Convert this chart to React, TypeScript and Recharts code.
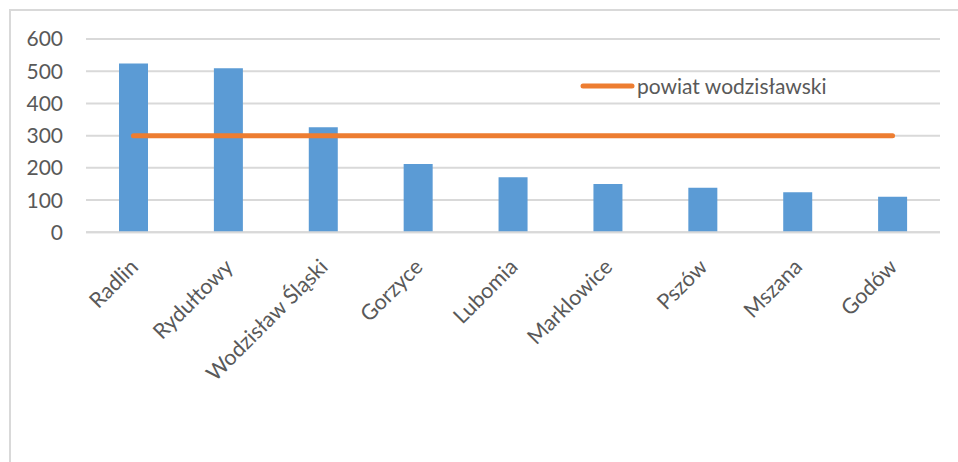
import React from 'react';
import { ComposedChart, Bar, Line, XAxis, YAxis, CartesianGrid, Legend } from 'recharts';

const gminy: string[] = ['Radlin', 'Rydułtowy', 'Wodzisław Śląski', 'Gorzyce', 'Lubomia', 'Marklowice', 'Pszów', 'Mszana', 'Godów'];
const wartosci: number[] = [524, 509, 326, 212, 171, 150, 138, 124, 110];
const powiat: number[] = [300, 300, 300, 300, 300, 300, 300, 300, 300];
const yTicks: number[] = [0, 100, 200, 300, 400, 500, 600];

const FONT = 'Lato, "Open Sans", sans-serif';
const TEXT = '#595959';

const data = gminy.map((name, i) => ({ name, gmina: wartosci[i], powiat: powiat[i] }));

const XTick = (props: any) => {
  const { x, y, payload } = props;
  const ax = x + 6;
  const ay = y + 28;
  return (
    <text
      x={ax}
      y={ay}
      textAnchor="end"
      fill={TEXT}
      fontSize={21.5}
      fontFamily={FONT}
      transform={`rotate(-45, ${ax}, ${ay})`}
    >
      {payload.value}
    </text>
  );
};

const LegendBox = () => (
  <svg width={290} height={40} style={{ overflow: 'visible' }}>
    <line x1={4} y1={16} x2={53} y2={16} stroke="#ED7D31" strokeWidth={5} strokeLinecap="round" />
    <text x={58} y={24} fill={TEXT} fontSize={21} fontFamily={FONT}>powiat wodzisławski</text>
  </svg>
);

export default function App() {
  return (
    <div style={{ position: 'absolute', left: 0, top: 0, width: 958, height: 462, background: '#fff' }}>
      <div
        style={{
          position: 'absolute',
          left: 9,
          top: 9,
          right: 0,
          bottom: 0,
          borderTop: '2px solid #D9D9D9',
          borderLeft: '2px solid #D9D9D9',
        }}
      />
      <div style={{ position: 'absolute', left: 0, top: 0 }}>
        <ComposedChart width={958} height={462} data={data} margin={{ top: 39, right: 18, left: 0, bottom: 80 }}>
          <CartesianGrid vertical={false} stroke="#D9D9D9" strokeWidth={2} />
          <XAxis
            dataKey="name"
            interval={0}
            tick={<XTick />}
            tickLine={false}
            axisLine={{ stroke: '#D9D9D9', strokeWidth: 2 }}
            height={149.7}
          />
          <YAxis
            domain={[0, 600]}
            ticks={yTicks}
            interval={0}
            width={86}
            tickSize={0}
            tickMargin={23}
            axisLine={false}
            tickLine={false}
            tick={{ fill: TEXT, fontSize: 21, fontFamily: FONT }}
          />
          <Legend
            layout="vertical"
            align="center"
            verticalAlign="middle"
            content={<LegendBox />}
            wrapperStyle={{ position: 'absolute', left: 579, top: 70, width: 290, height: 40 }}
          />
          <Bar dataKey="gmina" fill="#5B9BD5" barSize={29} isAnimationActive={false} legendType="none" />
          <Line
            dataKey="powiat"
            stroke="#ED7D31"
            strokeWidth={5}
            strokeLinecap="round"
            dot={false}
            activeDot={false}
            isAnimationActive={false}
          />
        </ComposedChart>
      </div>
    </div>
  );
}
